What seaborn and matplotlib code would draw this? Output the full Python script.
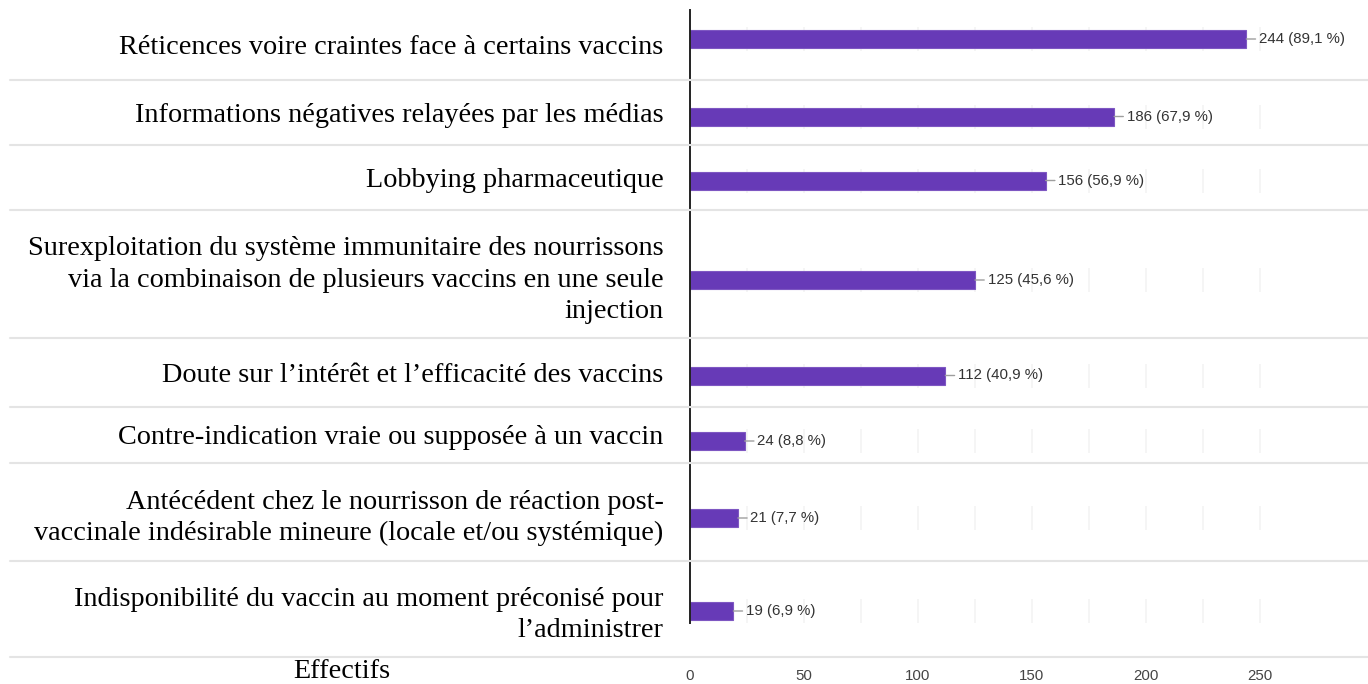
import matplotlib
matplotlib.use("Agg")
import matplotlib.pyplot as plt
import seaborn as sns
import pandas as pd
from matplotlib.lines import Line2D

categories = [
    "Réticences voire craintes face à certains vaccins",
    "Informations négatives relayées par les médias",
    "Lobbying pharmaceutique",
    "Surexploitation du système immunitaire des nourrissons\nvia la combinaison de plusieurs vaccins en une seule\ninjection",
    "Doute sur l’intérêt et l’efficacité des vaccins",
    "Contre-indication vraie ou supposée à un vaccin",
    "Antécédent chez le nourrisson de réaction post-\nvaccinale indésirable mineure (locale et/ou systémique)",
    "Indisponibilité du vaccin au moment préconisé pour\nl’administrer",
]
counts = [244, 186, 156, 125, 112, 24, 21, 19]
percents = ["89,1", "67,9", "56,9", "45,6", "40,9", "8,8", "7,7", "6,9"]
xticks = [0, 50, 100, 150, 200, 250]
gridticks = [25, 50, 75, 100, 125, 150, 175, 200, 225, 250]
x_label = "Effectifs"

sns.set_theme(style="white")
W, H = 1368, 684
fig = plt.figure(figsize=(W / 100, H / 100), dpi=100)

# layout (pixels)
row_edges = [10, 80, 145, 210, 338, 407, 463, 561, 657]
bar_shift = [-6, 4, 3, 6, 3, 6, 6, 2]
axis_x = 690
px_per_unit = 2.28
xmax = (W - axis_x) / px_per_unit
bar_px = 18
grid_px = 24
serif = "Liberation Serif"
sans = "Liberation Sans"
purple = "#673ab7"
label_size = 20.3

df = pd.DataFrame({"cat": categories, "count": counts})

for i, (cat, cnt, pct) in enumerate(zip(categories, counts, percents)):
    top, bot = row_edges[i], row_edges[i + 1]
    hpx = bot - top
    off = bar_shift[i] / hpx
    ax = fig.add_axes([axis_x / W, 1 - bot / H, 1 - axis_x / W, hpx / H])
    ax.patch.set_alpha(0)
    ax.vlines(gridticks, -grid_px / 2 / hpx, grid_px / 2 / hpx,
              color="#f4f4f4", lw=1.2, zorder=0)
    sns.barplot(data=df.iloc[[i]], x="count", y="cat", orient="h",
                color=purple, saturation=1, width=bar_px / hpx,
                edgecolor="#7e57c2", linewidth=0.8, ax=ax, zorder=2)
    ax.set_ylim(0.5 - off, -0.5 - off)
    ax.set_xlim(0, xmax)
    ax.set_xlabel("")
    ax.set_ylabel("")
    ax.set_yticks([-off])
    ax.set_yticklabels([cat], fontfamily=serif, fontsize=label_size,
                       color="black", linespacing=1.32)
    ax.tick_params(axis="y", length=0, pad=19)
    for s in ["top", "right", "bottom"]:
        ax.spines[s].set_visible(False)
    ax.spines["left"].set_color("#222222")
    ax.spines["left"].set_linewidth(1.4)
    ax.annotate(f"{cnt} ({pct} %)", xy=(cnt, 0), xytext=(9, 0),
                textcoords="offset points", ha="left", va="center",
                fontsize=10.8, family=sans, color="#333333",
                arrowprops=dict(arrowstyle="-", color="#9e9e9e", lw=1,
                                shrinkA=0, shrinkB=0))
    if i == len(categories) - 1:
        ax.spines["left"].set_bounds(-0.5 - off, 12 / hpx)
        ax.set_xticks(xticks)
        ax.set_xticklabels([str(t) for t in xticks], fontfamily=sans,
                           fontsize=10.8, color="#444444")
        ax.tick_params(axis="x", length=0, pad=8.5)
    else:
        ax.set_xticks([])

for e in row_edges[1:]:
    fig.add_artist(Line2D([10 / W, 1], [1 - e / H, 1 - e / H],
                          transform=fig.transFigure, color="#e4e4e4", lw=1.5))

fig.text(342 / W, 1 - 672 / H, x_label, ha="center", va="center",
         family=serif, fontsize=label_size, color="black")

fig.savefig("out.png", dpi=100)
